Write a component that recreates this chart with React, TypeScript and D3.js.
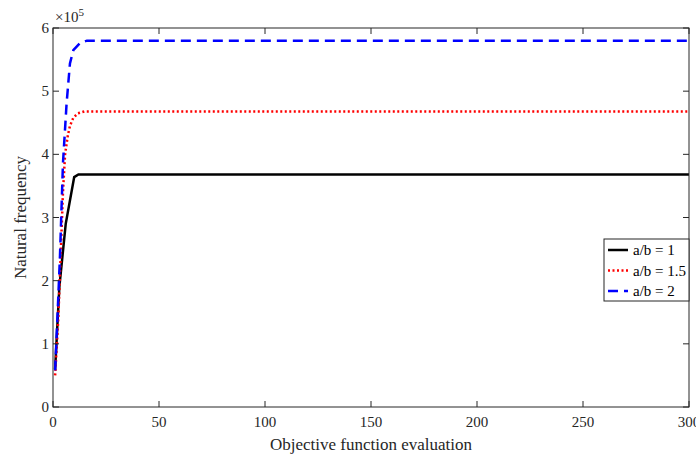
import { useEffect, useRef } from 'react';
import * as d3 from 'd3';

// values in units of 1e5
const ratio1 = [[1, 0.6], [3, 1.9], [6, 2.9], [10, 3.64], [12, 3.68], [300, 3.68]];
const ratio15 = [[1, 0.5], [2.5, 1.4], [3.5, 2.3], [4.7, 3.4], [5.7, 4.0], [7, 4.3], [8, 4.45], [9.6, 4.58], [11.8, 4.65], [15, 4.68], [300, 4.68]];
const ratio2 = [[1, 0.58], [2.2, 1.5], [3.3, 2.4], [4.7, 3.86], [6.4, 4.8], [8, 5.44], [9.6, 5.65], [12.7, 5.76], [16, 5.8], [300, 5.8]];
const xTicks = [0, 50, 100, 150, 200, 250, 300];
const yTicks = [0, 1, 2, 3, 4, 5, 6];
const legendLabels = ['a/b = 1', 'a/b = 1.5', 'a/b = 2'];

const W = 696;
const H = 458;
const M = { left: 53, right: 7, top: 28, bottom: 51 };

export default function App() {
    const svgRef = useRef<SVGSVGElement>(null);

    useEffect(() => {
        const svg = d3.select(svgRef.current);
        svg.selectAll('*').remove();

        const x = d3.scaleLinear().domain([0, 300]).range([M.left, W - M.right]);
        const y = d3.scaleLinear().domain([0, 6]).range([H - M.bottom, M.top]);
        const axisColor = '#262626';
        const font = '"Liberation Serif", "Times New Roman", serif';

        const series = [
            { data: ratio1, color: '#000000', dash: null },
            { data: ratio15, color: '#ff0000', dash: '2,2.5' },
            { data: ratio2, color: '#0000ff', dash: '10,6' },
        ];

        const line = d3.line<number[]>().x((d) => x(d[0])).y((d) => y(d[1]));

        // lines
        series.forEach((s) => {
            svg.append('path')
                .attr('d', line(s.data))
                .attr('fill', 'none')
                .attr('stroke', s.color)
                .attr('stroke-width', 2.5)
                .attr('stroke-dasharray', s.dash);
        });

        // box
        svg.append('rect')
            .attr('x', x(0)).attr('y', y(6))
            .attr('width', x(300) - x(0)).attr('height', y(0) - y(6))
            .attr('fill', 'none').attr('stroke', axisColor).attr('stroke-width', 1);

        // ticks (inward, all sides)
        const tickLen = 6;
        const tg = svg.append('g').attr('stroke', axisColor).attr('stroke-width', 1);
        xTicks.forEach((t) => {
            tg.append('line').attr('x1', x(t)).attr('x2', x(t)).attr('y1', y(0)).attr('y2', y(0) - tickLen);
            tg.append('line').attr('x1', x(t)).attr('x2', x(t)).attr('y1', y(6)).attr('y2', y(6) + tickLen);
        });
        yTicks.forEach((t) => {
            tg.append('line').attr('x1', x(0)).attr('x2', x(0) + tickLen).attr('y1', y(t)).attr('y2', y(t));
            tg.append('line').attr('x1', x(300)).attr('x2', x(300) - tickLen).attr('y1', y(t)).attr('y2', y(t));
        });

        svg.append('g').selectAll('text').data(xTicks).enter().append('text')
            .attr('x', (d) => x(d)).attr('y', y(0) + 20)
            .attr('text-anchor', 'middle')
            .attr('font-family', font).attr('font-size', 15).attr('fill', axisColor)
            .text((d) => d);

        svg.append('g').selectAll('text').data(yTicks).enter().append('text')
            .attr('x', x(0) - 4).attr('y', (d) => y(d) + 5)
            .attr('text-anchor', 'end')
            .attr('font-family', font).attr('font-size', 15).attr('fill', axisColor)
            .text((d) => d);

        // exponent
        const ex = svg.append('text').attr('x', x(0) + 2).attr('y', y(6) - 6)
            .attr('font-family', font).attr('font-size', 15).attr('fill', axisColor);
        ex.append('tspan').text('×10');
        ex.append('tspan').attr('dy', -6).attr('font-size', 11).text('5');

        // axis labels
        svg.append('text')
            .attr('x', (x(0) + x(300)) / 2).attr('y', H - 8)
            .attr('text-anchor', 'middle')
            .attr('font-family', font).attr('font-size', 17).attr('fill', axisColor)
            .text('Objective function evaluation');

        svg.append('text')
            .attr('transform', `translate(26, ${(y(0) + y(6)) / 2}) rotate(-90)`)
            .attr('text-anchor', 'middle')
            .attr('font-family', font).attr('font-size', 17).attr('fill', axisColor)
            .text('Natural frequency');

        // legend
        const lx = 604, ly = 239, lw = x(300) - 604, lh = 62;
        const lg = svg.append('g');
        lg.append('rect').attr('x', lx).attr('y', ly).attr('width', lw).attr('height', lh)
            .attr('fill', '#ffffff').attr('stroke', axisColor).attr('stroke-width', 1);
        series.forEach((s, i) => {
            const yy = ly + 11 + i * 20.5;
            lg.append('line').attr('x1', lx + 4).attr('x2', lx + 24).attr('y1', yy).attr('y2', yy)
                .attr('stroke', s.color).attr('stroke-width', 2.5).attr('stroke-dasharray', s.dash);
            lg.append('text').attr('x', lx + 29).attr('y', yy + 5)
                .attr('font-family', font).attr('font-size', 15).attr('fill', '#000')
                .text(legendLabels[i]);
        });
    }, []);

    return (
        <svg ref={svgRef} width={W} height={H}
            style={{ position: 'absolute', left: 0, top: 0, background: '#fff' }} />
    );
}
